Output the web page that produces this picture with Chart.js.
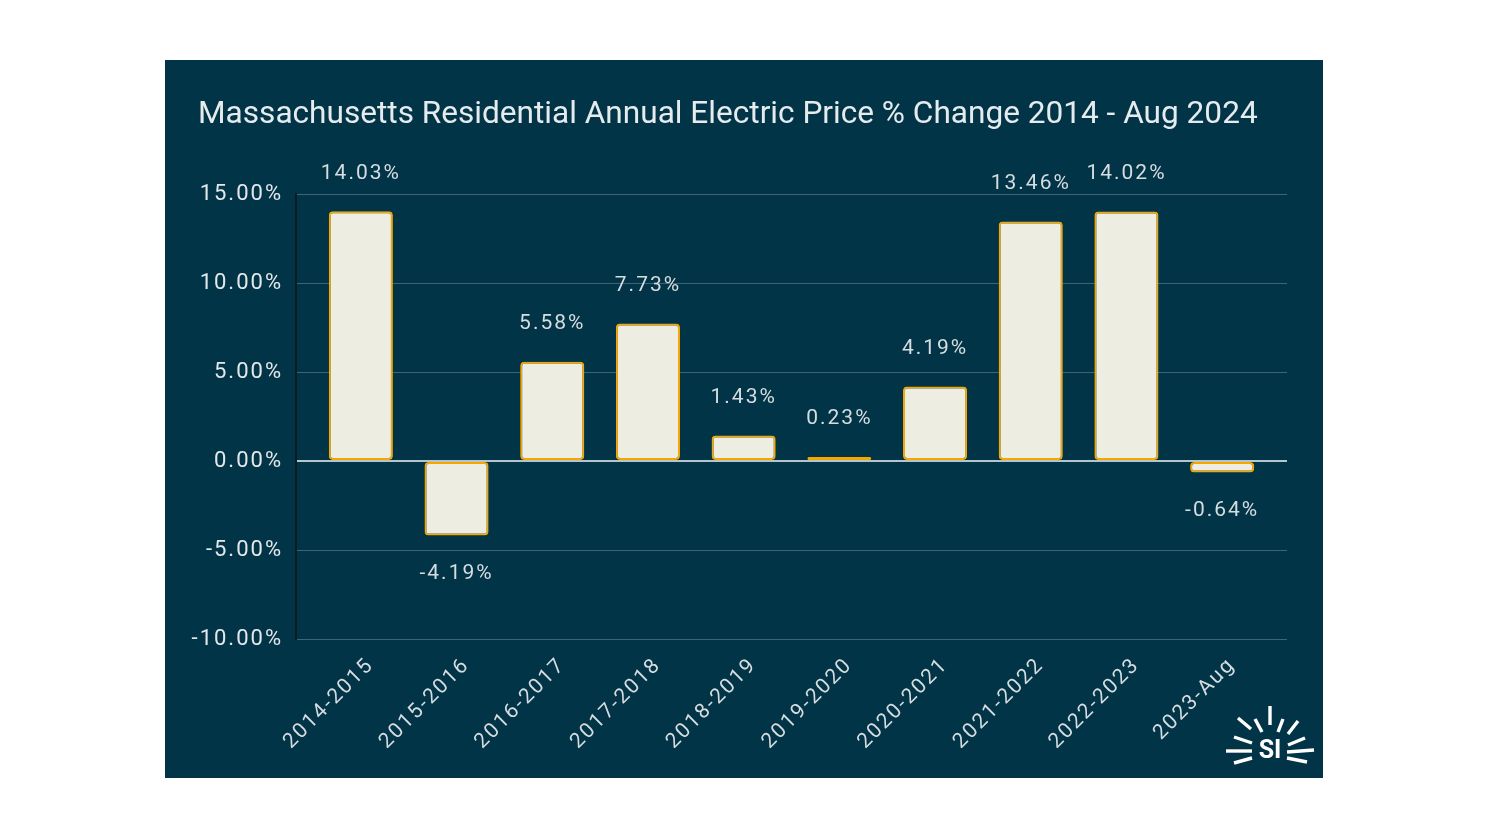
<!DOCTYPE html>
<html><head><meta charset="utf-8">
<script src="https://cdn.jsdelivr.net/npm/chart.js@4"></script>
<style>
html,body{margin:0;padding:0;background:#fff;width:1488px;height:837px;overflow:hidden}
#wrap{position:absolute;left:165px;top:60px;width:1158px;height:718px;background:#023447}
</style></head><body>
<div id="wrap"><canvas id="c" width="1158" height="718"></canvas></div>
<script>
const categories = ['2014-2015','2015-2016','2016-2017','2017-2018','2018-2019','2019-2020','2020-2021','2021-2022','2022-2023','2023-Aug'];
const priceChange = [14.03, -4.19, 5.58, 7.73, 1.43, 0.23, 4.19, 13.46, 14.02, -0.64];
const titleText = 'Massachusetts Residential Annual Electric Price % Change 2014 - Aug 2024';
const yMin = -10, yMax = 15, yStep = 5;

const FONT = 'Roboto, "Open Sans", sans-serif';
const X_INSET = 17;

const overlay = {
  id: 'overlay',
  afterLayout(chart){
    const s = chart.scales.x;
    s._startPixel += X_INSET;
    s._endPixel -= X_INSET;
    s._length -= 2 * X_INSET;
  },
  beforeDraw(chart){ chart.ctx.letterSpacing = '2px'; },
  afterDraw(chart){
    const ctx = chart.ctx;
    ctx.save();
    // title
    ctx.letterSpacing = '0px';
    ctx.fillStyle = '#e6ecee';
    ctx.font = '31.6px ' + FONT;
    ctx.textBaseline = 'middle';
    ctx.textAlign = 'left';
    ctx.fillText(titleText, 33, 55);
    // data labels
    ctx.letterSpacing = '2px';
    ctx.font = '21px ' + FONT;
    ctx.fillStyle = '#d6dde0';
    ctx.textAlign = 'center';
    const meta = chart.getDatasetMeta(0);
    meta.data.forEach((bar, i) => {
      const v = priceChange[i];
      const y = v >= 0 ? bar.y - 38 : bar.y + 38;
      ctx.fillText(v.toFixed(2) + '%', bar.x, y);
    });
    // logo
    const cx = 1270 - 165, cy = 750 - 60;
    ctx.strokeStyle = '#ffffff';
    ctx.lineWidth = 3.4;
    ctx.lineCap = 'butt';
    const rays = [
      [0,-44,0,-25], [-32,-32,-19,-21], [-15,-31,-8,-18], [13,-31,8,-18], [28,-29,18,-16],
      [-36,-13,-18,-7], [-44,1,-18,1], [-36,13,-18,8],
      [35,-12,18,-5], [17,2,44,0], [17,8,37,12]
    ];
    rays.forEach(([x1, y1, x2, y2]) => {
      ctx.beginPath();
      ctx.moveTo(cx + x1, cy + y1);
      ctx.lineTo(cx + x2, cy + y2);
      ctx.stroke();
    });
    ctx.letterSpacing = '0px';
    ctx.fillStyle = '#ffffff';
    ctx.font = 'bold 25px ' + FONT;
    ctx.textAlign = 'center';
    ctx.fillText('SI', cx, cy + 2);
    ctx.restore();
  }
};

new Chart(document.getElementById('c'), {
  type: 'bar',
  data: {
    labels: categories,
    datasets: [{
      data: priceChange,
      backgroundColor: '#edeee1',
      borderColor: '#f5a600',
      borderWidth: 2,
      borderRadius: 4,
      borderSkipped: false,
      barPercentage: 0.67,
      categoryPercentage: 1
    }]
  },
  options: {
    responsive: false,
    animation: false,
    devicePixelRatio: 1,
    layout: { padding: { left: 0, right: 36, top: 134, bottom: 0 } },
    plugins: { legend: { display: false }, tooltip: { enabled: false }, title: { display: false } },
    scales: {
      x: {
        grid: { display: false },
        border: { display: false },
        ticks: { color: '#d6dde0', font: { family: FONT, size: 21 }, maxRotation: 45, minRotation: 45, padding: 6, labelOffset: 10 },
        afterFit(s){ s.height = 139; }
      },
      y: {
        min: yMin, max: yMax,
        ticks: { stepSize: yStep, color: '#e3e8ea', font: { family: FONT, size: 22 }, padding: 13,
                 callback: v => v.toFixed(2) + '%' },
        grid: { drawTicks: false, color: ctx => ctx.tick.value === 0 ? '#b4c5cb' : '#3f6475',
                lineWidth: ctx => ctx.tick.value === 0 ? 2 : 1 },
        border: { display: true, color: '#0a1b22', width: 2 },
        afterFit(s){ s.width = 131; }
      }
    }
  },
  plugins: [overlay]
});
</script>
</body></html>
